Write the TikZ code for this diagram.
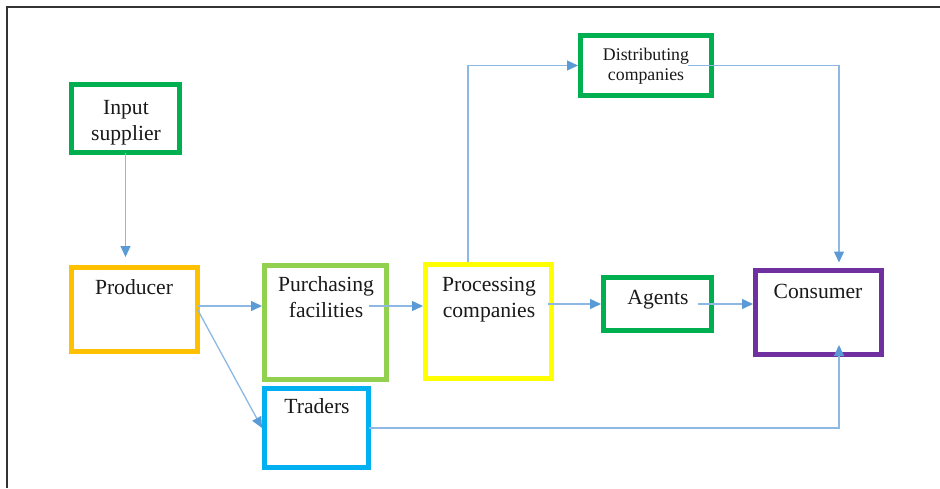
\documentclass[tikz,border=0pt]{standalone}
\usepackage{fontspec}
\setmainfont{Liberation Serif}
\usetikzlibrary{arrows.meta}
\definecolor{boxgreen}{HTML}{00B050}
\definecolor{boxorange}{HTML}{FFC000}
\definecolor{boxlime}{HTML}{92D050}
\definecolor{boxyellow}{HTML}{FFFF00}
\definecolor{boxcyan}{HTML}{00B0F0}
\definecolor{boxpurple}{HTML}{7030A0}
\definecolor{linkline}{HTML}{8DB8E3}
\definecolor{linktip}{HTML}{5B9BD5}
\definecolor{framegray}{HTML}{333333}
\tikzset{
  box/.style={draw=#1, line width=5pt, rectangle, inner sep=0pt, outer sep=0pt},
  lbl/.style={font=\fontsize{21.6pt}{26pt}\selectfont, align=center, anchor=base, inner sep=0pt, text=black!90},
  smalllbl/.style={font=\fontsize{17.8pt}{20pt}\selectfont, align=center, anchor=base, inner sep=0pt, text=black!90},
  conn/.style={draw=linkline, line width=1.3pt, -{Triangle[length=11pt,width=10pt,color=linktip]}}
}
\begin{document}
\begin{tikzpicture}[x=1pt,y=-1pt]
\useasboundingbox (0,0) rectangle (940,488);
% frame
\draw[framegray, line width=2pt] (6.5,488) -- (6.5,6.7) -- (940,6.7);
% boxes
\node[box=boxgreen, minimum width=108, minimum height=68] (input) at (125.5,118.5) {};
\node[box=boxgreen, minimum width=131, minimum height=60] (dist) at (646,65.5) {};
\node[box=boxorange, minimum width=126, minimum height=84] (prod) at (134.5,309.5) {};
\node[box=boxlime, minimum width=122, minimum height=114] (purch) at (325.5,322.5) {};
\node[box=boxcyan, minimum width=104, minimum height=79] (traders) at (316.5,428) {};
\node[box=boxyellow, minimum width=126, minimum height=114] (proc) at (488.5,321.5) {};
\node[box=boxgreen, minimum width=108, minimum height=53] (agents) at (657.5,304) {};
\node[box=boxpurple, minimum width=126, minimum height=84] (cons) at (818.5,312.5) {};
% texts (base anchor = baseline of last line)
\node[lbl] (tinput) at (126,140) {Input\\supplier};
\node[smalllbl] (tdist) at (646,80) {Distributing\\companies};
\node[lbl] (tprod) at (134,294.7) {Producer};
\node[lbl] (tpurch) at (326,317) {Purchasing\\facilities};
\node[lbl] (ttraders) at (317,413) {Traders};
\node[lbl] (tproc) at (489,317) {Processing\\companies};
\node[lbl] (tagents) at (658,304.7) {Agents};
\node[lbl] (tcons) at (818,298) {Consumer};
% coordinates
\coordinate (inEnd) at (125.5,257);
\coordinate (rowA) at (0,306);
\coordinate (purchOut) at (369,306);
\coordinate (procOut) at (548,304);
\coordinate (agentsOut) at (698,304);
\coordinate (procUp) at (468,262);
\coordinate (distOut) at (688,65.5);
\coordinate (consTop) at (839,262.5);
\coordinate (consBot) at (839,345);
% connectors
\draw[conn] (input.south) -- (inEnd);
\draw[conn] (prod.east |- rowA) -- ([xshift=-2.5pt]purch.west |- rowA);
\draw[conn] (prod.east) -- ([xshift=-2.5pt]traders.west);
\draw[conn] (purchOut) -- ([xshift=-2.5pt]proc.west |- purchOut);
\draw[conn] (procOut) -- ([xshift=-2.5pt]agents.west);
\draw[conn] (agentsOut) -- ([xshift=-2.5pt]cons.west |- agentsOut);
\draw[conn] (procUp) |- ([xshift=-2.5pt]dist.west);
\draw[conn] (distOut) -| (consTop);
\draw[conn] (traders.east) -| (consBot);
\end{tikzpicture}
\end{document}
